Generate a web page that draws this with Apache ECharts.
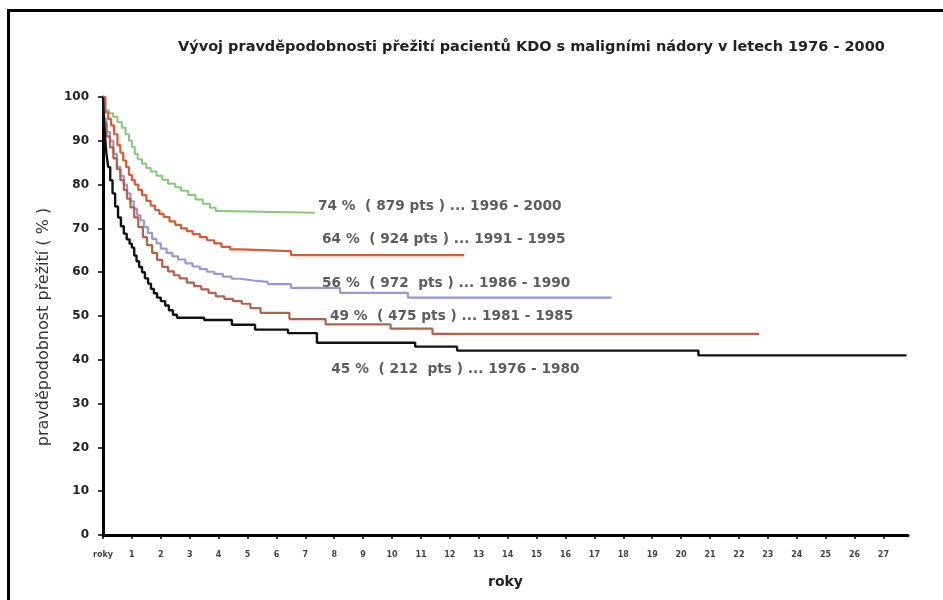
<!DOCTYPE html>
<html>
<head>
<meta charset="utf-8">
<script src="https://cdn.jsdelivr.net/npm/echarts@6/dist/echarts.min.js"></script>
<style>html,body{margin:0;padding:0;background:#fff}#c{width:943px;height:600px}</style>
</head>
<body>
<div id="c"></div>
<script>
const titleText = 'Vývoj pravděpodobnosti přežití pacientů KDO s maligními nádory v letech 1976 - 2000';
const yName = 'pravděpodobnost přežití ( % )';
const xName = 'roky';
const xTicks = [0,1,2,3,4,5,6,7,8,9,10,11,12,13,14,15,16,17,18,19,20,21,22,23,24,25,26,27];
const xTickLabels = ['roky','1','2','3','4','5','6','7','8','9','10','11','12','13','14','15','16','17','18','19','20','21','22','23','24','25','26','27'];

const s1996 = [[0,100],[0.08,97],[0.2,96.3],[0.35,95.5],[0.5,94.3],[0.65,93],[0.78,91.5],[0.9,90],[1.0,88.6],[1.1,87],[1.2,85.8],[1.35,84.8],[1.5,83.8],[1.65,83],[1.85,82],[2.05,81.1],[2.25,80.2],[2.5,79.4],[2.7,78.6],[2.95,77.6],[3.2,76.6],[3.45,75.6],[3.7,74.7],[3.9,74],[4.1,73.6],[7.33,73.6]];
const s1991 = [[0,100],[0.08,96.5],[0.18,95],[0.28,93.5],[0.38,91.5],[0.5,89],[0.6,87.3],[0.7,85.5],[0.8,84],[0.9,82.2],[1.0,81],[1.1,80],[1.22,78.8],[1.35,77.6],[1.5,76.3],[1.65,75.2],[1.8,74.2],[1.95,73.3],[2.1,72.6],[2.3,71.6],[2.5,70.8],[2.7,70],[2.9,69.4],[3.1,68.7],[3.35,68],[3.6,67.3],[3.85,66.6],[4.1,65.8],[4.4,65.2],[4.75,64.8],[6.5,63.9],[12.5,63.9]];
const s1986 = [[0,100],[0.05,95],[0.12,92],[0.24,90],[0.36,87],[0.48,84],[0.6,82],[0.72,80],[0.83,78],[0.95,76.2],[1.07,74.5],[1.18,73],[1.3,71.8],[1.42,70.3],[1.55,69],[1.7,67.6],[1.85,66.6],[2.0,65.4],[2.2,64.4],[2.4,63.6],[2.6,62.9],[2.85,62],[3.1,61.3],[3.35,60.7],[3.6,60.1],[3.85,59.6],[4.15,59],[4.45,58.5],[4.75,58.1],[5.2,57.8],[5.7,57.3],[6.5,56.4],[8.2,55.3],[10.55,54.2],[17.6,54.2]];
const s1981 = [[0,100],[0.05,94],[0.12,91],[0.24,88.5],[0.36,86],[0.48,83.5],[0.6,81],[0.72,78.8],[0.83,76.8],[0.95,74.8],[1.08,72.5],[1.22,70.3],[1.38,68],[1.52,66.2],[1.7,64.4],[1.87,62.8],[2.05,61.2],[2.25,60.2],[2.45,59.3],[2.65,58.6],[2.9,57.6],[3.15,56.8],[3.4,56.1],[3.65,55.3],[3.9,54.5],[4.2,53.9],[4.5,53.4],[4.8,52.8],[5.1,51.8],[5.45,50.7],[6.45,49.3],[7.7,48.1],[9.95,47.1],[11.4,45.9],[22.7,45.9]];
const s1976 = [[0,100],[0.03,95],[0.07,91],[0.12,87],[0.18,84],[0.25,81],[0.33,78],[0.42,75],[0.52,72.5],[0.62,70.5],[0.72,68.8],[0.82,67.5],[0.92,66.5],[1.0,65.6],[1.08,63.8],[1.16,62.5],[1.25,61.2],[1.35,60],[1.45,58.6],[1.56,57.4],[1.66,56.2],[1.76,55.2],[1.87,54.2],[2.0,53.4],[2.15,52.4],[2.28,51.3],[2.42,50.3],[2.56,49.6],[3.5,49.1],[4.46,48],[5.26,46.9],[6.4,46.1],[7.4,43.9],[10.8,43],[12.25,42.1],[20.6,41],[27.8,41]];

const labelTexts = [
  '74 %  ( 879 pts ) ... 1996 - 2000',
  '64 %  ( 924 pts ) ... 1991 - 1995',
  '56 %  ( 972  pts ) ... 1986 - 1990',
  '49 %  ( 475 pts ) ... 1981 - 1985',
  '45 %  ( 212  pts ) ... 1976 - 1980'
];
const labelAnchors = [[7.44,75.1],[7.58,67.4],[7.58,57.5],[7.85,49.8],[7.9,37.7]];

const FONT = 'DejaVu Sans';
const chart = echarts.init(document.getElementById('c'), null, {renderer:'canvas'});

function lineSeries(name, data, color, width){
  return {name, type:'line', data, step:'end', symbol:'none', animation:false,
    lineStyle:{color, width}, z:3};
}

chart.setOption({
  animation:false,
  backgroundColor:'#fff',
  title:{text:titleText, left:173, top:35,
    textStyle:{fontFamily:FONT, fontSize:14.5, fontWeight:'bold', color:'#222'}},
  graphic:[{type:'rect', shape:{x:8.5, y:10.5, width:980, height:640},
    style:{fill:null, stroke:'#000', lineWidth:3}, silent:true}],
  grid:{left:103, top:97, right:35, bottom:65, containLabel:false},
  xAxis:{type:'value', min:0, max:27.85,
    name:xName, nameLocation:'middle', nameGap:40,
    nameTextStyle:{fontFamily:FONT, fontSize:14, fontWeight:'bold', color:'#222'},
    axisLine:{show:true, lineStyle:{color:'#000', width:3}},
    axisTick:{show:true, customValues:xTicks, length:4, lineStyle:{color:'#000', width:1.5}},
    axisLabel:{customValues:xTicks, margin:16, fontFamily:FONT, fontSize:8, fontWeight:'bold', color:'#444',
      formatter:function(v){ const i = xTicks.indexOf(Math.round(v)); return i>=0 ? xTickLabels[i] : ''; }},
    splitLine:{show:false}},
  yAxis:{type:'value', min:0, max:100, interval:10,
    name:yName, nameLocation:'middle', nameGap:51, nameRotate:90,
    nameTextStyle:{fontFamily:FONT, fontSize:16, color:'#333', padding:[0,22,0,0]},
    axisLine:{show:true, lineStyle:{color:'#000', width:3}},
    axisTick:{show:true, length:5, lineStyle:{color:'#000', width:1.5}},
    axisLabel:{margin:14, fontFamily:FONT, fontSize:12, fontWeight:'bold', color:'#222'},
    splitLine:{show:false}},
  series:[
    lineSeries('1996 - 2000', s1996, '#86c97a', 2),
    lineSeries('1991 - 1995', s1991, '#dc5a36', 2.2),
    lineSeries('1986 - 1990', s1986, '#9898d4', 2.2),
    lineSeries('1981 - 1985', s1981, '#b5604a', 2.2),
    lineSeries('1976 - 1980', s1976, '#111111', 2.4),
    {type:'scatter', symbolSize:0, silent:true, z:5,
      data: labelAnchors.map((c,i)=>({value:c, name:labelTexts[i]})),
      label:{show:true, position:'right', distance:0, formatter:'{b}',
        fontFamily:FONT, fontSize:13.7, fontWeight:'bold', color:'#333'}}
  ]
});
</script>
</body>
</html>
